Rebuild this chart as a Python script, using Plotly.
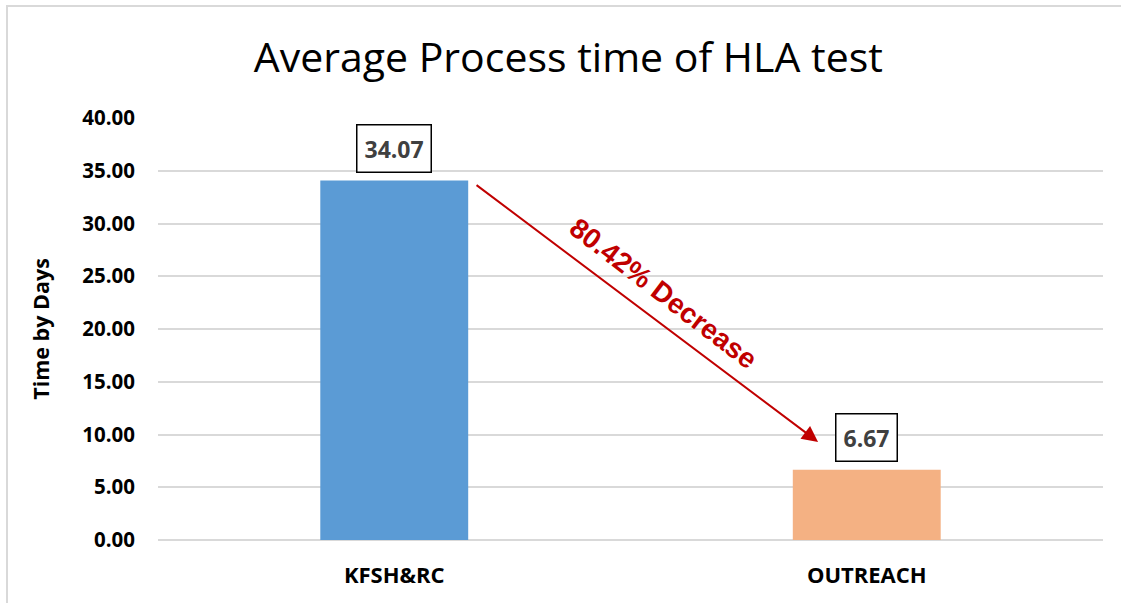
import plotly.graph_objects as go

categories = ["KFSH&RC", "OUTREACH"]
values = [34.07, 6.67]
bar_colors = ["#5B9BD5", "#F4B183"]
value_labels = ["34.07", "6.67"]
tick_vals = [0, 5, 10, 15, 20, 25, 30, 35, 40]
tick_text = ["0.00", "5.00", "10.00", "15.00", "20.00", "25.00", "30.00", "35.00", "40.00"]
change_label = "80.42% Decrease"

fig = go.Figure()
fig.add_trace(go.Bar(
    x=categories, y=values, marker=dict(color=bar_colors, line=dict(width=0)),
    width=0.313, showlegend=False, hoverinfo="skip",
))

for c, v, t in zip(categories, values, value_labels):
    fig.add_annotation(
        x=c, y=v, text="<b>%s</b>" % t, showarrow=False,
        yanchor="bottom", yshift=8,
        font=dict(family="Open Sans", size=23, color="#404040"),
        bordercolor="#000000", borderwidth=1.5, borderpad=7, bgcolor="#FFFFFF",
    )

# arrow from first bar top area to second bar label
fig.add_annotation(
    x=0.897, y=9.3, ax=0.171, ay=33.74,
    xref="x", yref="y", axref="x", ayref="y",
    text="", showarrow=True, arrowhead=2, arrowsize=1.6, arrowwidth=2,
    arrowcolor="#C00000",
)
fig.add_annotation(
    x=0.57, y=23.4, xref="x", yref="y", text="<b>%s</b>" % change_label,
    showarrow=False, textangle=37.5,
    font=dict(family="Liberation Sans", size=28, color="#C00000"),
)

# outer chart border
fig.add_shape(type="rect", xref="paper", yref="paper",
              x0=-0.1598, x1=1.2, y0=-0.3, y1=1.2654,
              line=dict(color="#D9D9D9", width=2), fillcolor="rgba(0,0,0,0)", layer="below")

fig.update_layout(
    width=1121, height=603,
    margin=dict(l=158, r=18, t=118, b=63),
    paper_bgcolor="#FFFFFF", plot_bgcolor="#FFFFFF",
    title=dict(text="Average Process time of HLA test", x=0.507, xanchor="center",
               y=1 - 58 / 603, yanchor="middle",
               font=dict(family="Open Sans", size=41, color="#000000")),
    xaxis=dict(showgrid=False, showline=False, zeroline=False, ticks="",
               tickfont=dict(family="Open Sans", size=22, color="#000000", weight="bold"),
               ticklabelstandoff=20),
    yaxis=dict(range=[0, 40], tickvals=tick_vals, ticktext=tick_text,
               showgrid=True, gridcolor="#D9D9D9", gridwidth=1.5,
               zeroline=True, zerolinecolor="#D9D9D9", zerolinewidth=1.5,
               showline=False, ticks="",
               tickfont=dict(family="Open Sans", size=20.5, color="#000000", weight="bold"),
               ticklabelstandoff=22,
               title=dict(text="<b>Time by Days</b>", standoff=26,
                          font=dict(family="Open Sans", size=21.5, color="#000000"))),
)

fig.write_html("out.html", config={"displayModeBar": False},
               post_script="document.body.style.margin='0';document.body.style.padding='0';")
